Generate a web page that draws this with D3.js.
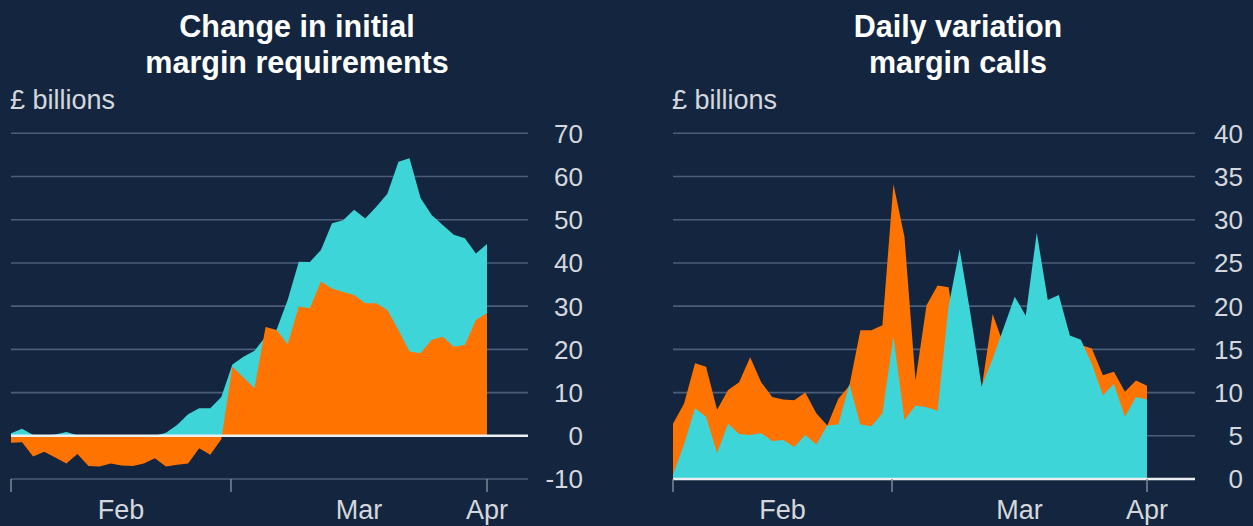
<!DOCTYPE html>
<html><head><meta charset="utf-8">
<script src="https://cdn.jsdelivr.net/npm/d3@7"></script>
<style>html,body{margin:0;padding:0;background:#14263f;overflow:hidden}</style>
</head><body><svg id="c" width="1253" height="526"></svg>
<script>
// ---- data (business days, 31 Jan – 1 Apr 2020) ----
const dayIndex = d3.range(44);
const monthTickIdx = [0, 19.87, 43];
const monthLabels = ["Feb", "Mar", "Apr"];

// Left panel: change in initial margin requirements (£bn)
const imTotal = [0.6, 1.6, 0.2, 0, 0.3, 0.9, 0.1, 0, 0, 0,
  0, 0, 0, 0, 0.7, 2.5, 5.0, 6.4, 6.4, 9.0,
  16.5, 18.3, 19.7, 23, 24.6, 31.5, 40.3, 40.2, 43, 49.2,
  49.9, 52.3, 50.3, 53.0, 56, 63.4, 64.2, 55.0, 51.1, 48.8,
  46.5, 45.7, 42.2, 44.4];
const imOrange = [-1.6, -1.5, -4.8, -3.7, -5.0, -6.4, -4.2, -7.0, -7.1, -6.4,
  -6.9, -7.0, -6.4, -5.2, -7.1, -6.7, -6.4, -2.9, -4.4, -0.8,
  16.0, 13.5, 11.0, 25.2, 24.5, 21.2, 29.9, 29.5, 35.7, 34.1,
  33.3, 32.6, 30.7, 30.7, 29.1, 24.5, 19.5, 19.1, 22.2, 22.9,
  20.6, 21.0, 26.8, 28.4];
const imTicks = [-10, 0, 10, 20, 30, 40, 50, 60, 70];

// Right panel: daily variation margin calls (£bn)
const vmOrange = [6.4, 8.7, 13.4, 13.0, 8.0, 10.3, 11.2, 14.1, 11.2, 9.5,
  9.2, 9.1, 10.0, 7.6, 6.2, 9.3, 10.8, 17.2, 17.2, 17.8,
  34.1, 28.0, 11.4, 20.1, 22.4, 22.2, 14.0, 16.0, 10.5, 19.1,
  15.5, 17.0, 16.0, 20.0, 17.0, 18.0, 15.0, 15.5, 15.1, 12.0,
  12.4, 10.1, 11.4, 10.8];
const vmCyan = [0.5, 4.0, 8.2, 7.2, 3.0, 6.4, 5.2, 5.1, 5.3, 4.4,
  4.5, 3.7, 5.1, 4.0, 6.2, 6.3, 11.0, 6.3, 6.1, 7.6,
  16.5, 6.8, 8.5, 8.3, 7.9, 20.0, 26.6, 19.0, 10.7, 13.9,
  17.5, 21.1, 18.9, 28.5, 20.7, 21.3, 16.6, 16.1, 13.3, 9.7,
  11.0, 7.2, 9.5, 9.2];
const vmTicks = [0, 5, 10, 15, 20, 25, 30, 35, 40];

const unitLabel = "£ billions";
const leftTitle = ["Change in initial", "margin requirements"];
const rightTitle = ["Daily variation", "margin calls"];

// ---- styles ----
const BG = "#14263f", GRID = "#4b5d78", ORANGE = "#ff7400", CYAN = "#3dd5d7",
      TEXT = "#d4d8de", ZERO = "#eceff2", TICK = "#7d8899";
const FONT = "'Liberation Sans', Arial, Helvetica, sans-serif";

const svg = d3.select("#c");
svg.append("rect").attr("width", 1253).attr("height", 526).attr("fill", BG);

function panel(cfg) {
  const g = svg.append("g");
  const x = d3.scaleLinear().domain([0, dayIndex.length - 1]).range(cfg.xRange);
  const y = d3.scaleLinear().domain(cfg.yDomain).range([479, 133.3]);

  // gridlines
  g.selectAll("line.grid").data(cfg.ticks.filter(v => v !== 0 || cfg.yDomain[0] !== 0))
    .join("line").attr("class", "grid")
    .attr("x1", cfg.gridLeft).attr("x2", cfg.gridRight)
    .attr("y1", d => y(d)).attr("y2", d => y(d))
    .attr("stroke", GRID).attr("stroke-width", 1.6);

  // areas
  cfg.series.forEach(s => {
    const area = d3.area().x((d, i) => x(i)).y0(y(0)).y1(d => y(d));
    g.append("path").datum(s.values).attr("d", area).attr("fill", s.color);
  });

  // zero line
  g.append("line").attr("x1", cfg.gridLeft).attr("x2", cfg.gridRight)
    .attr("y1", y(0)).attr("y2", y(0)).attr("stroke", ZERO).attr("stroke-width", 2.4);

  // month ticks
  const yb = y(cfg.yDomain[0]);
  g.selectAll("line.mt").data(monthTickIdx).join("line").attr("class", "mt")
    .attr("x1", d => x(d)).attr("x2", d => x(d))
    .attr("y1", yb).attr("y2", yb + 13)
    .attr("stroke", TICK).attr("stroke-width", 1.5);

  const labelPos = monthTickIdx.map((t, i) =>
    i < monthTickIdx.length - 1 ? (t + monthTickIdx[i + 1]) / 2 : t);
  g.selectAll("text.ml").data(monthLabels).join("text").attr("class", "ml")
    .attr("x", (d, i) => x(labelPos[i])).attr("y", 519)
    .attr("text-anchor", "middle").attr("fill", TEXT)
    .attr("font-family", FONT).attr("font-size", 27).text(d => d);

  // y tick labels
  g.selectAll("text.yl").data(cfg.ticks).join("text").attr("class", "yl")
    .attr("x", cfg.labelRight).attr("y", d => y(d)).attr("dy", "0.36em")
    .attr("text-anchor", "end").attr("fill", TEXT)
    .attr("font-family", FONT).attr("font-size", 26).text(d => d);

  // unit label
  g.append("text").attr("x", cfg.gridLeft - 1).attr("y", 109)
    .attr("fill", TEXT).attr("font-family", FONT).attr("font-size", 27).text(unitLabel);

  // title
  g.selectAll("text.t").data(cfg.title).join("text").attr("class", "t")
    .attr("x", cfg.titleX).attr("y", (d, i) => 37 + i * 36)
    .attr("text-anchor", "middle").attr("fill", "#ffffff")
    .attr("font-family", FONT).attr("font-weight", "bold").attr("font-size", 30.5)
    .text(d => d);
}

panel({
  xRange: [11, 487], gridLeft: 11, gridRight: 528, labelRight: 583,
  yDomain: [-10, 70], ticks: imTicks, title: leftTitle, titleX: 297,
  series: [{values: imTotal, color: CYAN}, {values: imOrange, color: ORANGE}]
});
panel({
  xRange: [673, 1147], gridLeft: 673, gridRight: 1195, labelRight: 1243,
  yDomain: [0, 40], ticks: vmTicks, title: rightTitle, titleX: 958,
  series: [{values: vmOrange, color: ORANGE}, {values: vmCyan, color: CYAN}]
});
</script></body></html>
